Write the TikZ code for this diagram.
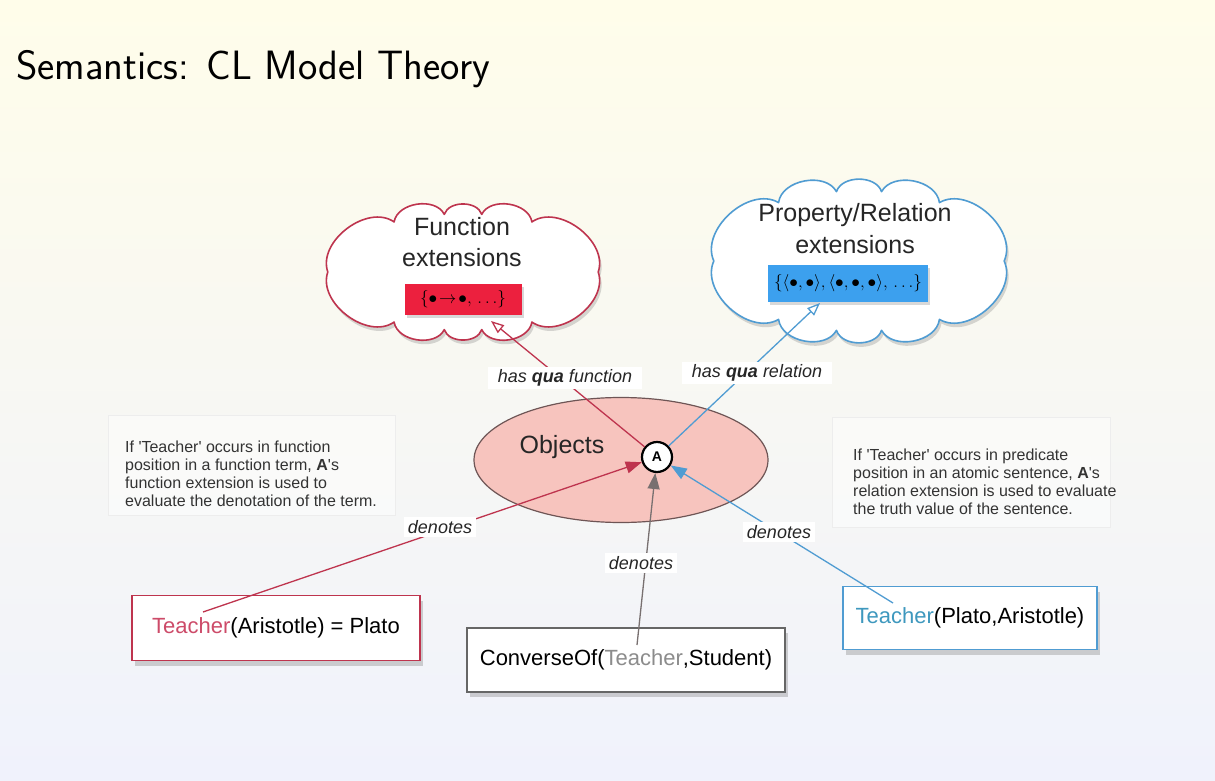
\documentclass[tikz,border=0pt]{standalone}
\usepackage{fontspec}
\setmainfont{Liberation Sans}
\usetikzlibrary{shapes.geometric,arrows.meta,shadows}
\definecolor{bgtop}{RGB}{255,253,234}
\definecolor{bgbot}{RGB}{240,242,252}
\definecolor{cred}{RGB}{190,52,78}
\definecolor{credbox}{RGB}{236,32,62}
\definecolor{cblue}{RGB}{80,156,210}
\definecolor{cbluebox}{RGB}{60,160,238}
\definecolor{objfill}{RGB}{247,196,190}
\definecolor{objline}{RGB}{110,85,85}
\definecolor{cgray}{RGB}{120,112,112}
\definecolor{tred}{RGB}{205,75,105}
\definecolor{tblue}{RGB}{62,152,190}
\definecolor{tgray}{RGB}{140,140,140}
\tikzset{
  cloudcore/.style={ellipse, inner sep=0pt},
  cloudline/.style={fill=white, line width=1.6pt, line join=round,
    drop shadow={shadow xshift=2pt, shadow yshift=-4pt, opacity=0.3}},
  ctext/.style={font=\fontsize{25}{28}\selectfont, text=black!85, inner sep=0pt},
  tbox/.style={rectangle, fill=white, line width=1.5pt, font=\fontsize{22}{24}\selectfont,
    drop shadow={shadow xshift=3pt, shadow yshift=-5pt, opacity=0.35}},
  notebox/.style={rectangle, draw=black!7, fill=white, fill opacity=0.45, anchor=north west},
  notetext/.style={anchor=north west, align=left, inner sep=0pt, text=black!80,
    font=\fontsize{16}{17.8}\selectfont},
  lbl/.style={fill=white, inner xsep=10pt, inner ysep=3pt, font=\fontsize{18}{20}\selectfont\itshape, text=black!85},
  conn/.style={line width=1.3pt},
  opentip/.style={-{Triangle[open, length=13pt, width=10pt, fill=white]}},
  fulltip/.style={-{Triangle[length=16pt, width=12pt]}}
}
\begin{document}
\begin{tikzpicture}[x=1pt,y=-1pt]
\useasboundingbox (0,0) rectangle (1215,781);
\shade[top color=bgtop, bottom color=bgbot] (0,0) rectangle (1215,781);

\node[anchor=base west, font=\sffamily\fontsize{41}{46}\selectfont, inner sep=0pt] (title) at (16,80) {Semantics: CL Model Theory};

% clouds
\node[cloudcore, minimum width=270pt, minimum height=116pt] (fcloud) at (463,272) {};
\draw[cloudline, draw=cred] (fcloud.0)
  \foreach \a in {36,72,...,324} { to[bend right=72] (fcloud.\a) } to[bend right=72] (fcloud.0) -- cycle;
\node[cloudcore, minimum width=290pt, minimum height=140pt] (pcloud) at (859,261) {};
\draw[cloudline, draw=cblue] (pcloud.0)
  \foreach \a in {36,72,...,324} { to[bend right=72] (pcloud.\a) } to[bend right=72] (pcloud.0) -- cycle;

\node[ctext] (ft1) at (462,227) {Function};
\node[ctext] (ft2) at (462,258) {extensions};
\node[fill=credbox, minimum width=117pt, minimum height=31pt, inner sep=0pt,
  font=\fontsize{17}{18}\selectfont, drop shadow={shadow xshift=2pt, shadow yshift=-3pt, opacity=0.3}] (fbox) at (463,299) {$\{\bullet\!\rightarrow\!\bullet,\,\ldots\}$};

\node[ctext] (pt1) at (855,215) {Property/Relation};
\node[ctext] (pt2) at (855,245) {extensions};
\node[fill=cbluebox, minimum width=160pt, minimum height=37pt, inner sep=0pt,
  font=\fontsize{17}{18}\selectfont, drop shadow={shadow xshift=2pt, shadow yshift=-3pt, opacity=0.3}] (pbox) at (848,283) {$\{\langle\bullet,\bullet\rangle,\langle\bullet,\bullet,\bullet\rangle,\,\ldots\}$};

% objects
\node[ellipse, fill=objfill, draw=objline, line width=1.2pt, minimum width=294pt, minimum height=125pt, inner sep=0pt] (obj) at (621,460) {};
\node[font=\fontsize{25}{28}\selectfont, text=black!85, inner sep=0pt] (objlbl) at (562,447) {Objects};
\node[circle, draw=black, line width=2.2pt, fill=white, minimum size=30pt, inner sep=0pt,
  font=\bfseries\fontsize{14}{14}\selectfont] (A) at (657,457) {A};

% notes
\node[notebox, minimum width=287pt, minimum height=100pt] (lbox) at (108,415) {};
\node[notetext] (ltext) at (125,441) {If \textquotesingle Teacher\textquotesingle\ occurs in function\\position in a function term, \textbf{A}\textquotesingle s\\function extension is used to\\evaluate the denotation of the term.};
\node[notebox, minimum width=278pt, minimum height=110pt] (rbox) at (832,417) {};
\node[notetext] (rtext) at (853,449) {If \textquotesingle Teacher\textquotesingle\ occurs in predicate\\position in an atomic sentence, \textbf{A}\textquotesingle s\\relation extension is used to evaluate\\the truth value of the sentence.};

% terms
\node[tbox, draw=cred, minimum width=288pt, minimum height=65pt] (b1) at (276,628) {\textcolor{tred}{Teacher}(Aristotle) = Plato};
\node[tbox, draw=black!60, minimum width=318pt, minimum height=64pt] (b2) at (626,660) {ConverseOf(\textcolor{tgray}{Teacher},Student)};
\node[tbox, draw=cblue, minimum width=254pt, minimum height=63pt] (b3) at (970,618) {\textcolor{tblue}{Teacher}(Plato,Aristotle)};

\coordinate (e1) at (203,612);
\coordinate (e2) at (637,645);
\coordinate (e3) at (893,603);
\coordinate (rtip) at (491,321);
\coordinate (btip) at (820,303);

% connectors
\draw[conn, cred, opentip] (A) -- (rtip);
\draw[conn, cblue, opentip] (A) -- (btip);
\draw[conn, cred, fulltip] (e1) -- (A);
\draw[conn, cgray, fulltip] (e2) -- (A);
\draw[conn, cblue, fulltip] (e3) -- (A);

% labels
\node[lbl] (lq1) at (565,378) {has \textbf{qua} function};
\node[lbl] (lq2) at (757,373) {has \textbf{qua} relation};
\node[lbl, inner xsep=4pt] (d1) at (440,527) {denotes};
\node[lbl, inner xsep=4pt] (d2) at (641,563) {denotes};
\node[lbl, inner xsep=4pt] (d3) at (779,532) {denotes};
\end{tikzpicture}
\end{document}
